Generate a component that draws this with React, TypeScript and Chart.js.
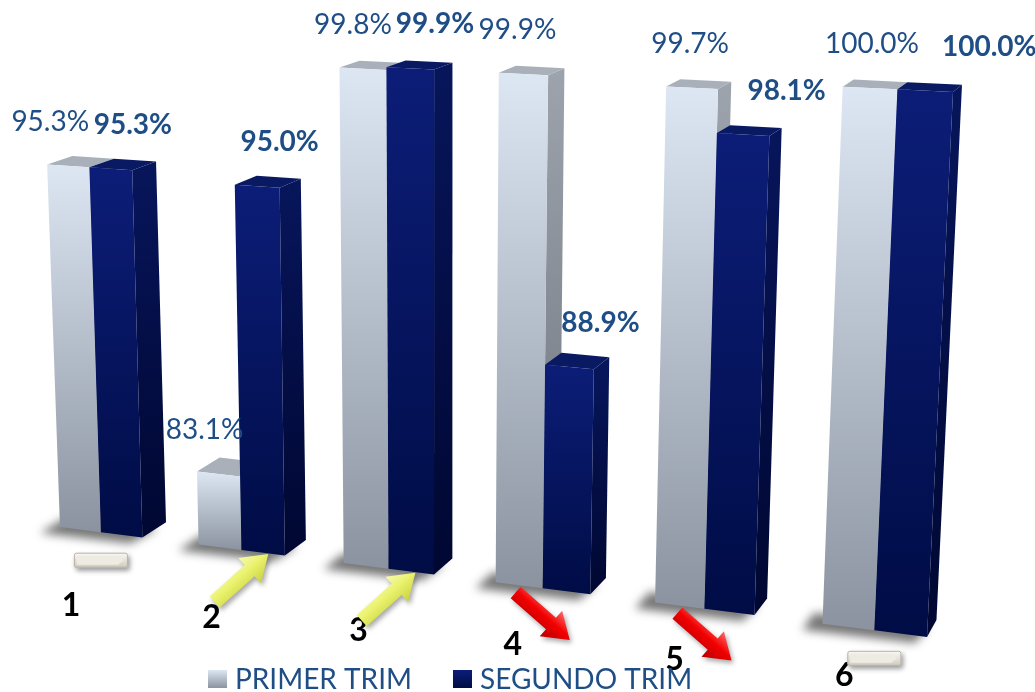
import React, { useEffect, useRef } from 'react';
import { Chart, registerables } from 'chart.js';

Chart.register(...registerables);

// ---------------- data ----------------
const categories = ['1', '2', '3', '4', '5', '6'];
const primerTrim = [95.3, 83.1, 99.8, 99.9, 99.7, 100.0];
const segundoTrim = [95.3, 95.0, 99.9, 88.9, 98.1, 100.0];
const seriesNames = ['PRIMER TRIM', 'SEGUNDO TRIM'];
const valueMin = 80;
const valueMax = 100;

// ---------------- view / style ----------------
const CANVAS_W = 1035;
const CANVAS_H = 692;
const CAT_PCT = 0.6;
// camera: where the front plane of the bars lands on screen
const PLANE_SCREEN: [number, number][] = [
  [60, 527],
  [927, 637],
  [953, 92],
  [43, 48],
];
const DEPTH_VP: [number, number] = [1453, -308];
const DEPTH_LAMBDA = 0.018;
const FONT = 'Lato, "Open Sans", sans-serif';
const LABEL_COLOR = '#1F4E86';

const seriesStyle = [
  { front: ['#DDE7F3', '#8A939F'], side: ['#9CA3AD', '#6B727C'], top: '#A9B0BA', weight: 'normal' },
  { front: ['#0C1D78', '#000C45'], side: ['#07155A', '#000731'], top: '#0A1A62', weight: 'bold' },
];

type Pt = [number, number];

function solveHomography(src: Pt[], dst: Pt[]): number[] {
  const A: number[][] = [];
  for (let k = 0; k < 4; k++) {
    const [u, v] = src[k];
    const [X, Y] = dst[k];
    A.push([u, v, 1, 0, 0, 0, -u * X, -v * X, X]);
    A.push([0, 0, 0, u, v, 1, -u * Y, -v * Y, Y]);
  }
  const n = 8;
  for (let c = 0; c < n; c++) {
    let piv = c;
    for (let r = c + 1; r < n; r++) if (Math.abs(A[r][c]) > Math.abs(A[piv][c])) piv = r;
    [A[c], A[piv]] = [A[piv], A[c]];
    for (let r = 0; r < n; r++) {
      if (r === c) continue;
      const f = A[r][c] / A[c][c];
      for (let k = c; k <= n; k++) A[r][k] -= f * A[c][k];
    }
  }
  return A.map((row, i) => row[n] / row[i]);
}

function project(h: number[], u: number, v: number): Pt {
  const w = h[6] * u + h[7] * v + 1;
  return [(h[0] * u + h[1] * v + h[2]) / w, (h[3] * u + h[4] * v + h[5]) / w];
}

function poly(ctx: CanvasRenderingContext2D, pts: Pt[]) {
  ctx.beginPath();
  ctx.moveTo(pts[0][0], pts[0][1]);
  for (let i = 1; i < pts.length; i++) ctx.lineTo(pts[i][0], pts[i][1]);
  ctx.closePath();
}

function drawArrow(ctx: CanvasRenderingContext2D, cx: number, cy: number, angle: number, up: boolean) {
  const L = 72, s = 15, hl = 25, hw = 34;
  ctx.save();
  ctx.translate(cx, cy);
  ctx.rotate(angle);
  ctx.beginPath();
  ctx.moveTo(-L / 2, -s / 2);
  ctx.lineTo(L / 2 - hl, -s / 2);
  ctx.lineTo(L / 2 - hl, -hw / 2);
  ctx.lineTo(L / 2, 0);
  ctx.lineTo(L / 2 - hl, hw / 2);
  ctx.lineTo(L / 2 - hl, s / 2);
  ctx.lineTo(-L / 2, s / 2);
  ctx.closePath();
  const g = ctx.createLinearGradient(0, -hw / 2, 0, hw / 2);
  if (up) {
    g.addColorStop(0, '#F7FBB0');
    g.addColorStop(0.45, '#EAF26E');
    g.addColorStop(1, '#C9D23E');
  } else {
    g.addColorStop(0, '#FF6A6A');
    g.addColorStop(0.45, '#F20000');
    g.addColorStop(1, '#B80000');
  }
  ctx.shadowColor = 'rgba(0,0,0,0.35)';
  ctx.shadowBlur = 5;
  ctx.shadowOffsetX = 2;
  ctx.shadowOffsetY = 3;
  ctx.fillStyle = g;
  ctx.fill();
  ctx.restore();
}

function drawEqual(ctx: CanvasRenderingContext2D, cx: number, cy: number) {
  const w = 54, h = 15;
  ctx.save();
  ctx.translate(cx - w / 2, cy - h / 2);
  ctx.shadowColor = 'rgba(0,0,0,0.4)';
  ctx.shadowBlur = 5;
  ctx.shadowOffsetX = 2;
  ctx.shadowOffsetY = 3;
  const g = ctx.createLinearGradient(0, 0, 0, h);
  g.addColorStop(0, '#FBFAF6');
  g.addColorStop(1, '#CFCABD');
  ctx.fillStyle = g;
  ctx.beginPath();
  ctx.roundRect(0, 0, w, h, 2);
  ctx.fill();
  ctx.shadowColor = 'transparent';
  ctx.fillStyle = '#EEEBE3';
  ctx.beginPath();
  ctx.moveTo(3, 3);
  ctx.lineTo(w - 10, 3);
  ctx.lineTo(w - 4, h / 2);
  ctx.lineTo(w - 10, h - 3);
  ctx.lineTo(3, h - 3);
  ctx.closePath();
  ctx.fill();
  ctx.strokeStyle = '#B7B2A4';
  ctx.lineWidth = 1;
  ctx.beginPath();
  ctx.roundRect(0.5, 0.5, w - 1, h - 1, 2);
  ctx.stroke();
  ctx.restore();
}

const perspectivePlugin = {
  id: 'perspective3d',
  beforeDatasetsDraw(chart: any) {
    const ctx: CanvasRenderingContext2D = chart.ctx;
    const area = chart.chartArea;
    const ys = chart.scales.y;
    const xs = chart.scales.x;
    const n = categories.length;
    const uL = (0.5 - CAT_PCT / 2) / n;
    const uR = (n - 0.5 + CAT_PCT / 2) / n;
    const hm = solveHomography([[uL, 0], [uR, 0], [uR, 1], [uL, 1]], PLANE_SCREEN);
    const P = (u: number, v: number) => project(hm, u, v);
    const toU = (px: number) => (px - area.left) / area.width;
    const toV = (py: number) => Math.max(0, (ys.bottom - py) / (ys.bottom - ys.top));
    const back = (p: Pt): Pt => [
      p[0] + DEPTH_LAMBDA * (DEPTH_VP[0] - p[0]),
      p[1] + DEPTH_LAMBDA * (DEPTH_VP[1] - p[1]),
    ];
    const metas = chart.data.datasets.map((_: any, di: number) => chart.getDatasetMeta(di));
    const uFirst = toU(xs.getPixelForValue(0));
    const uLast = toU(xs.getPixelForValue(n - 1));

    ctx.save();
    // floor shadows
    for (let i = 0; i < n; i++) {
      const l = metas[0].data[i].getProps(['x', 'width'], true);
      const r = metas[metas.length - 1].data[i].getProps(['x', 'width'], true);
      const fl = P(toU(l.x - l.width / 2), 0);
      const fr = P(toU(r.x + r.width / 2), 0);
      const bl = back(fl);
      const br = back(fr);
      ctx.save();
      ctx.filter = 'blur(5px)';
      ctx.fillStyle = 'rgba(60,60,60,0.7)';
      ctx.translate(-20, 6);
      poly(ctx, [fl, [fr[0] + 8, fr[1]], [br[0] + 12, br[1]], bl]);
      ctx.fill();
      ctx.restore();
    }

    // bars (left to right)
    const tops: { p: Pt; di: number; value: number; t: number }[] = [];
    for (let i = 0; i < n; i++) {
      const t = (toU(xs.getPixelForValue(i)) - uFirst) / (uLast - uFirst);
      metas.forEach((meta: any, di: number) => {
        const el = meta.data[i].getProps(['x', 'y', 'base', 'width'], true);
        const st = seriesStyle[di];
        const ul = toU(el.x - el.width / 2);
        const ur = toU(el.x + el.width / 2);
        const vt = toV(el.y);
        const vb = toV(el.base);
        const flb = P(ul, vb), frb = P(ur, vb), frt = P(ur, vt), flt = P(ul, vt);
        const brb = back(frb), brt = back(frt), blt = back(flt);
        // side
        let g = ctx.createLinearGradient(0, frt[1], 0, frb[1]);
        g.addColorStop(0, st.side[0]);
        g.addColorStop(1, st.side[1]);
        ctx.fillStyle = g;
        poly(ctx, [frt, frb, brb, brt]);
        ctx.fill();
        // top
        ctx.fillStyle = st.top;
        poly(ctx, [flt, frt, brt, blt]);
        ctx.fill();
        // front
        g = ctx.createLinearGradient(0, Math.min(flt[1], frt[1]), 0, Math.max(flb[1], frb[1]));
        g.addColorStop(0, st.front[0]);
        g.addColorStop(1, st.front[1]);
        ctx.fillStyle = g;
        poly(ctx, [flt, frt, frb, flb]);
        ctx.fill();
        tops.push({ p: [(flt[0] + frt[0]) / 2, (flt[1] + frt[1]) / 2], di, value: chart.data.datasets[di].data[i], t });
      });
    }

    // value labels
    ctx.textAlign = 'center';
    ctx.textBaseline = 'middle';
    ctx.fillStyle = LABEL_COLOR;
    tops.forEach((tp) => {
      const st = seriesStyle[tp.di];
      ctx.font = `${st.weight} 28px ${FONT}`;
      const dx = tp.di === 0 ? -18 + 20 * tp.t : 22 + 42 * tp.t * tp.t * tp.t;
      ctx.fillText(`${Number(tp.value).toFixed(1)}%`, tp.p[0] + dx, tp.p[1] - 44);
    });

    // category labels + trend icons
    for (let i = 0; i < n; i++) {
      const uc = toU(xs.getPixelForValue(i));
      const t = (uc - uFirst) / (uLast - uFirst);
      const base = P(uc, 0);
      ctx.fillStyle = '#000000';
      ctx.font = `bold 32px ${FONT}`;
      ctx.fillText(categories[i], base[0] - 30, base[1] + 73 - 28 * t);
      const diff = segundoTrim[i] - primerTrim[i];
      const ix = base[0];
      const iy = base[1] + 28;
      if (Math.abs(diff) < 0.05) drawEqual(ctx, ix, iy);
      else if (diff > 0) drawArrow(ctx, ix, iy, -0.73, true);
      else drawArrow(ctx, ix, iy, 0.72, false);
    }

    // legend
    let lx = 208;
    const ly = 679;
    ctx.font = `28px ${FONT}`;
    ctx.textAlign = 'left';
    seriesNames.forEach((name, di) => {
      const st = seriesStyle[di];
      const g = ctx.createLinearGradient(0, ly - 9, 0, ly + 9);
      g.addColorStop(0, st.front[0]);
      g.addColorStop(1, st.front[1]);
      ctx.fillStyle = g;
      ctx.fillRect(lx, ly - 9, 19, 18);
      ctx.fillStyle = LABEL_COLOR;
      ctx.fillText(name, lx + 27, ly + 1);
      lx += 27 + ctx.measureText(name).width + 41;
    });
    ctx.restore();
    return false;
  },
};

export default function App() {
  const ref = useRef<HTMLCanvasElement | null>(null);
  useEffect(() => {
    if (!ref.current) return;
    const chart = new Chart(ref.current, {
      type: 'bar',
      data: {
        labels: categories,
        datasets: [
          { label: seriesNames[0], data: primerTrim, backgroundColor: '#DDE7F3', base: valueMin },
          { label: seriesNames[1], data: segundoTrim, backgroundColor: '#0C1D76', base: valueMin },
        ],
      },
      options: {
        animation: false,
        responsive: false,
        maintainAspectRatio: false,
        devicePixelRatio: 1,
        layout: { padding: 0 },
        datasets: { bar: { categoryPercentage: CAT_PCT, barPercentage: 1 } },
        scales: {
          x: { display: false },
          y: { display: false, min: valueMin, max: valueMax },
        },
        plugins: { legend: { display: false }, tooltip: { enabled: false } },
      },
      plugins: [perspectivePlugin],
    } as any);
    let alive = true;
    if ((document as any).fonts?.load) {
      Promise.all([
        (document as any).fonts.load('28px Lato'),
        (document as any).fonts.load('bold 28px Lato'),
      ]).then(() => { if (alive) chart.update(); }).catch(() => {});
    }
    return () => { alive = false; chart.destroy(); };
  }, []);
  return (
    <div style={{ position: 'fixed', left: 0, top: 0, width: CANVAS_W, height: CANVAS_H, background: '#ffffff' }}>
      <canvas ref={ref} width={CANVAS_W} height={CANVAS_H} style={{ display: 'block' }} />
    </div>
  );
}
